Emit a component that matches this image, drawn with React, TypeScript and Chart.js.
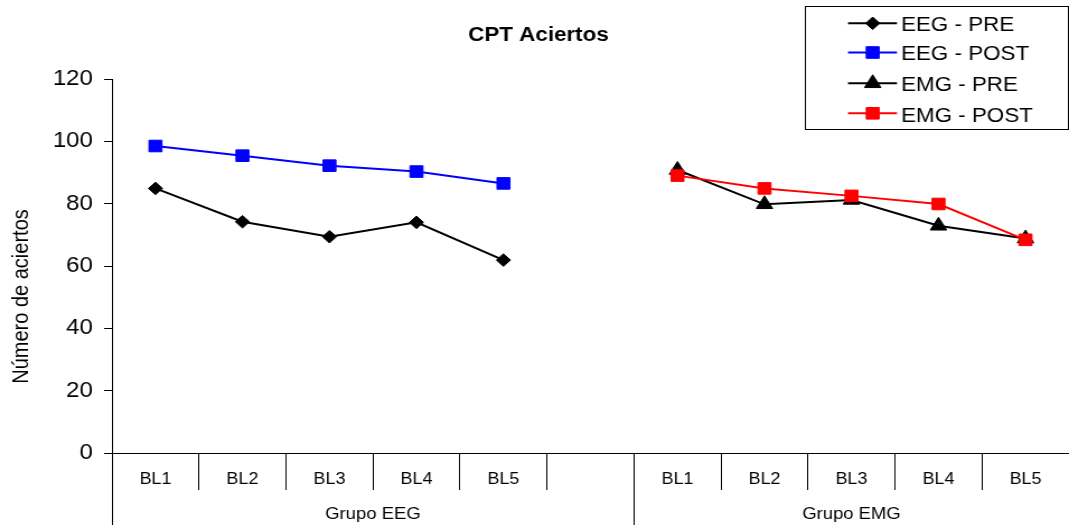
import React, { useEffect, useRef } from 'react';
import { Chart, registerables } from 'chart.js';

Chart.register(...registerables);

// ---------- data ----------
const categories = ['BL1', 'BL2', 'BL3', 'BL4', 'BL5', '', 'BL1', 'BL2', 'BL3', 'BL4', 'BL5'];
const groupLabels = ['Grupo EEG', 'Grupo EMG'];
const groupBoundaries = [0, 6, 11]; // category boundaries of the groups
const seriesNames = ['EEG - PRE', 'EEG - POST', 'EMG - PRE', 'EMG - POST'];
const eegPre = [84.9, 74.2, 69.4, 74.0, 61.9, null, null, null, null, null, null];
const eegPost = [98.5, 95.4, 92.2, 90.3, 86.5, null, null, null, null, null, null];
const emgPre = [null, null, null, null, null, null, 90.8, 79.8, 81.2, 72.9, 68.8];
const emgPost = [null, null, null, null, null, null, 89.0, 84.9, 82.5, 79.9, 68.4];
const yMin = 0;
const yMax = 120;
const yStep = 20;
const chartTitle = 'CPT Aciertos';
const yAxisTitle = 'Número de aciertos';

// ---------- layout ----------
const OUT_W = 1069;
const OUT_H = 525;
const IN_W = 955;
const SX = OUT_W / IN_W;
const ix = (v: number) => v / SX;
const FAMILY = '"Liberation Sans", Arial, Helvetica, sans-serif';

const seriesStyles = [
  { color: '#000000', pointStyle: 'rectRot', radius: 6.3 },
  { color: '#0000FF', pointStyle: 'rect', radius: 8.2 },
  { color: '#000000', pointStyle: 'triangle', radius: 8.5 },
  { color: '#FF0000', pointStyle: 'rect', radius: 8.2 },
];

function drawMarker(ctx: CanvasRenderingContext2D, style: string, x: number, y: number, r: number, color: string) {
  ctx.save();
  ctx.fillStyle = color;
  ctx.strokeStyle = color;
  ctx.lineWidth = 1;
  ctx.beginPath();
  if (style === 'rectRot') {
    ctx.moveTo(x - r, y);
    ctx.lineTo(x, y - r);
    ctx.lineTo(x + r, y);
    ctx.lineTo(x, y + r);
    ctx.closePath();
  } else if (style === 'rect') {
    const s = Math.SQRT1_2 * r;
    ctx.rect(x - s, y - s, 2 * s, 2 * s);
  } else if (style === 'triangle') {
    const a = (2 * Math.PI) / 3;
    ctx.moveTo(x, y - r);
    ctx.lineTo(x + Math.sin(a) * r, y - Math.cos(a) * r);
    ctx.lineTo(x + Math.sin(2 * a) * r, y - Math.cos(2 * a) * r);
    ctx.closePath();
  }
  ctx.fill();
  ctx.stroke();
  ctx.restore();
}

const decorPlugin = {
  id: 'decor',
  afterDraw(chart: any) {
    const { ctx, scales } = chart;
    const x = scales.x;
    const n = categories.length;
    const boundary = (i: number) => {
      if (i <= 0) return x.left;
      if (i >= n) return x.right;
      return (x.getPixelForTick(i - 1) + x.getPixelForTick(i)) / 2;
    };
    ctx.save();
    // group separator lines
    ctx.strokeStyle = '#000';
    ctx.lineWidth = 1;
    for (let g = 0; g < groupBoundaries.length - 1; g++) {
      const px = Math.round(boundary(groupBoundaries[g])) + 0.5;
      ctx.beginPath();
      ctx.moveTo(px, x.top);
      ctx.lineTo(px, chart.height);
      ctx.stroke();
    }
    // group labels
    ctx.fillStyle = '#000';
    ctx.font = `16.5px ${FAMILY}`;
    ctx.textAlign = 'center';
    ctx.textBaseline = 'alphabetic';
    for (let g = 0; g < groupLabels.length; g++) {
      const cx = (boundary(groupBoundaries[g]) + boundary(groupBoundaries[g + 1])) / 2;
      ctx.fillText(groupLabels[g], cx, 519.3);
    }
    // title
    ctx.font = `bold 20px ${FAMILY}`;
    ctx.fillText(chartTitle, ix(538.5), 41);
    // y axis title
    ctx.save();
    ctx.translate(ix(28), 296.5);
    ctx.rotate(-Math.PI / 2);
    ctx.font = `20px ${FAMILY}`;
    ctx.textAlign = 'center';
    ctx.fillText(yAxisTitle, 0, 0);
    ctx.restore();
    // legend
    ctx.strokeStyle = '#000';
    ctx.lineWidth = 1;
    const bx = Math.round(ix(805)) + 0.5;
    const by = 6.5;
    const bw = Math.round(ix(1068)) - Math.round(ix(805));
    ctx.strokeRect(bx, by, bw, 123);
    const lineY = [23.3, 52.5, 83.3, 113.3];
    const textY = [30.7, 60.3, 91.0, 121.5];
    ctx.font = `20px ${FAMILY}`;
    ctx.textAlign = 'left';
    chart.data.datasets.forEach((ds: any, i: number) => {
      const st = seriesStyles[i];
      ctx.strokeStyle = ds.borderColor;
      ctx.lineWidth = 2;
      ctx.beginPath();
      ctx.moveTo(ix(848), lineY[i]);
      ctx.lineTo(ix(897), lineY[i]);
      ctx.stroke();
      drawMarker(ctx, st.pointStyle, ix(872.7), lineY[i], st.radius, st.color);
      ctx.fillStyle = '#000';
      ctx.fillText(ds.label, ix(901), textY[i]);
    });
    ctx.restore();
  },
};

export default function App() {
  const ref = useRef<HTMLCanvasElement | null>(null);
  useEffect(() => {
    const canvas = ref.current;
    if (!canvas) return;
    Chart.defaults.font.family = FAMILY;
    const seriesData = [eegPre, eegPost, emgPre, emgPost];
    const chart = new Chart(canvas, {
      type: 'line',
      data: {
        labels: categories,
        datasets: seriesData.map((d, i) => ({
          label: seriesNames[i],
          data: d,
          borderColor: seriesStyles[i].color,
          backgroundColor: seriesStyles[i].color,
          pointBackgroundColor: seriesStyles[i].color,
          pointBorderColor: seriesStyles[i].color,
          pointBorderWidth: 1,
          pointStyle: seriesStyles[i].pointStyle as any,
          pointRadius: seriesStyles[i].radius,
          borderWidth: 2,
          tension: 0,
          fill: false,
          spanGaps: false,
          order: 4 - i,
          clip: false as any,
        })),
      },
      options: {
        responsive: false,
        animation: false,
        devicePixelRatio: 1,
        events: [],
        layout: { autoPadding: false, padding: { top: 79, left: 0, right: 0, bottom: 0 } },
        plugins: {
          legend: { display: false },
          title: { display: false },
          tooltip: { enabled: false },
        },
        scales: {
          x: {
            type: 'category',
            offset: true,
            grid: {
              display: true,
              offset: true,
              drawOnChartArea: false,
              drawTicks: true,
              tickLength: 37,
              color: '#000',
              lineWidth: 1,
            },
            border: { display: true, color: '#000', width: 1 },
            ticks: {
              color: '#000',
              font: { family: FAMILY, size: 16 },
              padding: -20,
              maxRotation: 0,
              autoSkip: false,
            },
            afterFit: (s: any) => {
              s.height = 72;
            },
          },
          y: {
            min: yMin,
            max: yMax,
            ticks: {
              stepSize: yStep,
              color: '#000',
              font: { family: FAMILY, size: 21.5 },
              padding: 10,
            },
            grid: {
              drawOnChartArea: false,
              drawTicks: true,
              tickLength: 7,
              color: '#000',
            },
            border: { display: true, color: '#000', width: 1 },
            afterFit: (s: any) => {
              s.width = 100;
            },
          },
        },
      },
      plugins: [decorPlugin],
    });
    return () => chart.destroy();
  }, []);

  return (
    <div style={{ position: 'fixed', left: 0, top: 0, width: OUT_W, height: OUT_H, background: '#fff' }}>
      <canvas
        ref={ref}
        width={IN_W}
        height={OUT_H}
        style={{ width: `${OUT_W}px`, height: `${OUT_H}px`, display: 'block' }}
      />
    </div>
  );
}
